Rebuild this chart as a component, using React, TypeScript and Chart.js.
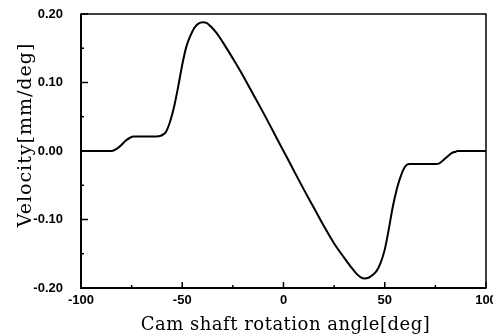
import React, { useEffect, useRef } from "react";
import { Chart, registerables } from "chart.js";

Chart.register(...registerables);

const angleDeg = [
  -100, -90, -85, -82, -80, -78, -76, -74, -70, -65, -61, -59, -58, -56, -54, -52, -50, -48, -46, -44, -42, -40, -38, -36,
  -33, -30, -25, -20, -15, -10, -5, 0, 5, 10, 15, 20, 25, 30, 33, 36, 38, 40, 42, 44, 46, 48, 50, 52, 54, 56, 58, 60, 62,
  65, 70, 75, 77, 79, 81, 83, 85, 86, 90, 100,
];
const velocity = [
  0, 0, 0, 0.004, 0.009, 0.015, 0.019, 0.021, 0.021, 0.021, 0.022, 0.025, 0.028, 0.043, 0.065, 0.094, 0.126, 0.152, 0.168,
  0.18, 0.186, 0.188, 0.187, 0.182, 0.172, 0.159, 0.135, 0.11, 0.083, 0.056, 0.028, 0, -0.028, -0.056, -0.083, -0.11,
  -0.135, -0.156, -0.168, -0.179, -0.184, -0.186, -0.185, -0.181, -0.175, -0.163, -0.144, -0.114, -0.081, -0.055, -0.036,
  -0.023, -0.019, -0.019, -0.019, -0.019, -0.018, -0.013, -0.008, -0.003, -0.001, 0, 0, 0,
];

const xTickValues = [-100, -75, -50, -25, 0, 25, 50, 75, 100];
const yTickValues = [-0.2, -0.15, -0.1, -0.05, 0, 0.05, 0.1, 0.15, 0.2];
const xTitle = "Cam shaft rotation angle[deg]";
const yTitle = "Velocity[mm/deg]";

const framePlugin = {
  id: "frameTicks",
  afterDraw(chart: any) {
    const { ctx, chartArea } = chart;
    const xs = chart.scales.x;
    const ys = chart.scales.y;
    const { left, right, top, bottom } = chartArea;
    ctx.save();
    ctx.strokeStyle = "#000";
    ctx.lineWidth = 1.5;
    ctx.strokeRect(left, top, right - left, bottom - top);
    ctx.lineWidth = 2;
    ctx.beginPath();
    ctx.moveTo(left, top);
    ctx.lineTo(left, bottom);
    ctx.lineTo(right, bottom);
    ctx.stroke();
    ctx.lineWidth = 1.5;
    ctx.beginPath();
    xTickValues.forEach((v) => {
      const px = xs.getPixelForValue(v);
      const len = v % 50 === 0 ? 6 : 3;
      ctx.moveTo(px, bottom);
      ctx.lineTo(px, bottom - len);
    });
    yTickValues.forEach((v) => {
      const py = ys.getPixelForValue(v);
      const major = Math.abs(Math.round(v * 100)) % 10 === 0;
      const len = major ? 7 : 3;
      ctx.moveTo(left, py);
      ctx.lineTo(left + len, py);
    });
    ctx.stroke();

    ctx.fillStyle = "#000";
    ctx.textAlign = "center";
    ctx.textBaseline = "alphabetic";
    ctx.font = "18px 'DejaVu Serif'";
    (ctx as any).letterSpacing = "0.5px";
    ctx.fillText(xTitle, (left + right) / 2 + 2, 330);
    ctx.translate(31, 135);
    ctx.rotate(-Math.PI / 2);
    ctx.font = "19px 'DejaVu Serif'";
    (ctx as any).letterSpacing = "1px";
    ctx.fillText(yTitle, 0, 0);
    ctx.restore();
  },
};

export default function App() {
  const ref = useRef<HTMLCanvasElement>(null);
  useEffect(() => {
    if (!ref.current) return;
    const tickFont = { family: "'Liberation Sans Narrow', 'Liberation Sans', sans-serif", size: 13, weight: "bold" as const };
    const chart = new Chart(ref.current, {
      type: "line",
      data: {
        datasets: [
          {
            data: angleDeg.map((a, i) => ({ x: a, y: velocity[i] })),
            borderColor: "#000",
            borderWidth: 2,
            pointRadius: 0,
            fill: false,
            cubicInterpolationMode: "monotone",
          },
        ],
      },
      options: {
        animation: false,
        responsive: false,
        events: [],
        layout: { padding: { top: 14, right: 7, left: 0, bottom: 0 } },
        plugins: { legend: { display: false }, tooltip: { enabled: false }, title: { display: false } },
        scales: {
          x: {
            type: "linear",
            min: -100,
            max: 100,
            grid: { display: false, drawTicks: false },
            border: { display: false },
            afterBuildTicks: (s: any) => {
              s.ticks = xTickValues.map((v) => ({ value: v }));
            },
            ticks: {
              color: "#000",
              font: tickFont,
              padding: 5,
              maxRotation: 0,
              autoSkip: false,
              callback: (v: any) => (Number(v) % 50 === 0 ? String(v) : ""),
            },
            afterFit: (s: any) => {
              s.height = 48;
              s.paddingLeft = 0;
              s.paddingRight = 0;
            },
          },
          y: {
            type: "linear",
            min: -0.2,
            max: 0.2,
            grid: { display: false, drawTicks: false },
            border: { display: false },
            afterBuildTicks: (s: any) => {
              s.ticks = yTickValues.map((v) => ({ value: v }));
            },
            ticks: {
              color: "#000",
              font: tickFont,
              padding: 18,
              autoSkip: false,
              callback: (v: any) => {
                const n = Number(v);
                return Math.abs(Math.round(n * 100)) % 10 === 0 ? (Math.abs(n) < 1e-9 ? "0.00" : n.toFixed(2)) : "";
              },
            },
            afterFit: (s: any) => {
              s.width = 81;
              s.paddingTop = 0;
              s.paddingBottom = 0;
            },
          },
        },
      },
      plugins: [framePlugin],
    });
    return () => chart.destroy();
  }, []);
  return (
    <div style={{ position: "fixed", left: 0, top: 0, width: 493, height: 336, background: "#fff" }}>
      <canvas ref={ref} width={493} height={336} />
    </div>
  );
}
